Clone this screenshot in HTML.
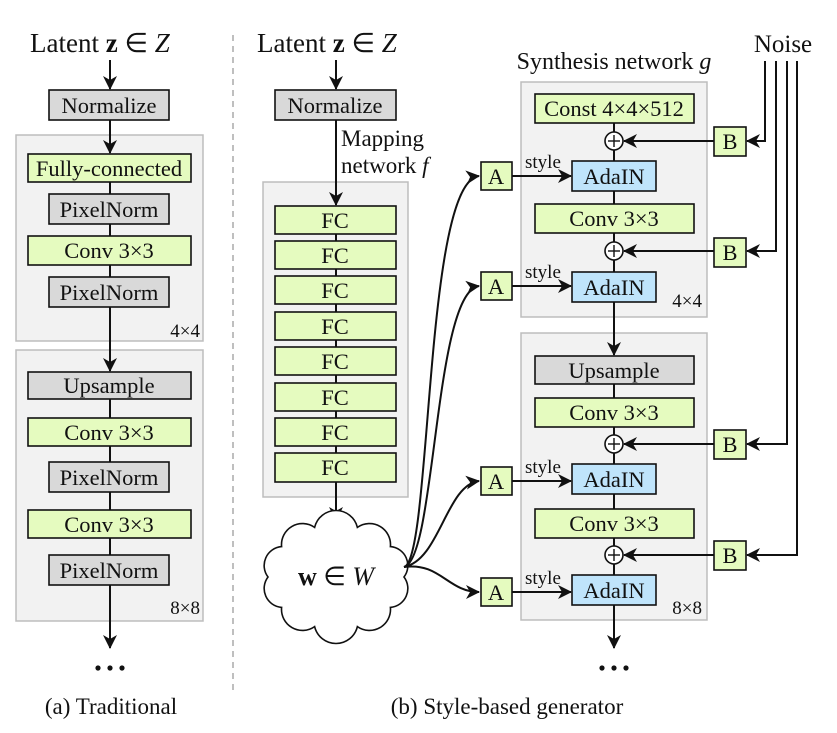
<!DOCTYPE html>
<html><head><meta charset="utf-8"><style>
html,body{margin:0;padding:0;background:#fff}
svg{display:block}
text{font-family:"Liberation Serif","Times New Roman",serif;fill:#111}
.g{fill:#e5fbbf;stroke:#111;stroke-width:1.6}
.gr{fill:#d9d9d9;stroke:#111;stroke-width:1.6}
.b{fill:#bfe4fb;stroke:#111;stroke-width:1.6}
.p{fill:#f2f2f2;stroke:#bdbdbd;stroke-width:1.5}
.l{stroke:#111;stroke-width:2;fill:none}
.t{font-size:22.5px;text-anchor:middle}
</style></head><body>
<svg width="837" height="733" viewBox="0 0 837 733" xmlns="http://www.w3.org/2000/svg" font-family="Liberation Serif, serif">
<defs>
<marker id="ar" viewBox="0 0 14 14" refX="13" refY="7" markerWidth="14" markerHeight="14" markerUnits="userSpaceOnUse" orient="auto">
<path d="M0,0 L14,7 L0,14 L4,7 Z" fill="#111"/>
</marker>
</defs>

<line x1="233" y1="35" x2="233" y2="692" stroke="#aaa" stroke-width="1.5" stroke-dasharray="6,5"/>

<!-- (a) -->
<text x="30" y="52" style="font-size:27px">Latent <tspan font-weight="bold">z</tspan> ∈ <tspan font-style="italic">Z</tspan></text>
<line class="l" x1="110" y1="60" x2="110" y2="89" marker-end="url(#ar)"/>
<rect class="gr" x="49" y="90" width="120" height="30"/>
<text class="t" x="109" y="113">Normalize</text>

<rect class="p" x="16" y="135" width="187" height="206"/>
<line class="l" x1="110" y1="120" x2="110" y2="153" marker-end="url(#ar)"/>
<line class="l" x1="110" y1="182" x2="110" y2="350"/>
<rect class="g" x="28" y="154" width="163" height="28"/>
<text class="t" x="109" y="176">Fully-connected</text>
<rect class="gr" x="49" y="194" width="120" height="30"/>
<text class="t" x="109" y="217">PixelNorm</text>
<rect class="g" x="28" y="236" width="163" height="29"/>
<text class="t" x="109" y="258">Conv 3×3</text>
<rect class="gr" x="49" y="277" width="120" height="30"/>
<text class="t" x="109" y="300">PixelNorm</text>
<text x="200" y="337" style="font-size:19px;text-anchor:end">4×4</text>

<rect class="p" x="16" y="350" width="187" height="271"/>
<line class="l" x1="110" y1="340" x2="110" y2="371" marker-end="url(#ar)"/>
<line class="l" x1="110" y1="398" x2="110" y2="585"/>
<rect class="gr" x="28" y="372" width="163" height="27"/>
<text class="t" x="109" y="393">Upsample</text>
<rect class="g" x="28" y="418" width="163" height="28"/>
<text class="t" x="109" y="440">Conv 3×3</text>
<rect class="gr" x="49" y="462" width="120" height="30"/>
<text class="t" x="109" y="485">PixelNorm</text>
<rect class="g" x="28" y="510" width="163" height="28"/>
<text class="t" x="109" y="532">Conv 3×3</text>
<rect class="gr" x="49" y="555" width="120" height="30"/>
<text class="t" x="109" y="578">PixelNorm</text>
<text x="200" y="614" style="font-size:19px;text-anchor:end">8×8</text>
<line class="l" x1="110" y1="585" x2="110" y2="648" marker-end="url(#ar)"/>
<g fill="#111"><circle cx="98" cy="668" r="2.6"/><circle cx="110" cy="668" r="2.6"/><circle cx="122" cy="668" r="2.6"/></g>
<text x="111" y="714" style="font-size:23px;text-anchor:middle">(a) Traditional</text>

<!-- (b) -->
<text x="257" y="52" style="font-size:27px">Latent <tspan font-weight="bold">z</tspan> ∈ <tspan font-style="italic">Z</tspan></text>
<line class="l" x1="336" y1="60" x2="336" y2="89" marker-end="url(#ar)"/>
<rect class="gr" x="275" y="90" width="121" height="30"/>
<text class="t" x="335" y="113">Normalize</text>
<text x="341" y="146" style="font-size:23px">Mapping</text>
<text x="341" y="173" style="font-size:23px">network <tspan font-style="italic">f</tspan></text>

<rect class="p" x="263" y="182" width="145" height="315"/>
<line class="l" x1="336" y1="120" x2="336" y2="205" marker-end="url(#ar)"/>
<line class="l" x1="336" y1="206" x2="336" y2="482"/>
<rect class="g" x="275" y="206" width="121" height="28"/><text class="t" x="335" y="228">FC</text>
<rect class="g" x="275" y="241" width="121" height="28"/><text class="t" x="335" y="263">FC</text>
<rect class="g" x="275" y="276" width="121" height="28"/><text class="t" x="335" y="298">FC</text>
<rect class="g" x="275" y="312" width="121" height="28"/><text class="t" x="335" y="334">FC</text>
<rect class="g" x="275" y="347" width="121" height="28"/><text class="t" x="335" y="369">FC</text>
<rect class="g" x="275" y="383" width="121" height="28"/><text class="t" x="335" y="405">FC</text>
<rect class="g" x="275" y="418" width="121" height="28"/><text class="t" x="335" y="440">FC</text>
<rect class="g" x="275" y="453" width="121" height="29"/><text class="t" x="335" y="475">FC</text>
<line class="l" x1="336" y1="482" x2="336" y2="520" marker-end="url(#ar)"/>

<path d="M404,577 A19,19 0 0 1 390.4,607.4 A21,21 0 0 1 357.4,626.6 A22,22 0 0 1 314.6,626.6 A21,21 0 0 1 281.6,607.4 A19,19 0 0 1 268,577 A19,19 0 0 1 281.6,546.6 A21,21 0 0 1 314.6,527.4 A22,22 0 0 1 357.4,527.4 A21,21 0 0 1 390.4,546.6 A19,19 0 0 1 404,577 Z" fill="#fff" stroke="#111" stroke-width="1.6"/>
<text x="336" y="585" style="font-size:26px;text-anchor:middle"><tspan font-weight="bold">w</tspan> ∈ <tspan font-style="italic">W</tspan></text>

<path class="l" d="M404,567 C432,560 424,182 479,176" marker-end="url(#ar)"/>
<path class="l" d="M404,567 C436,560 434,292 479,286" marker-end="url(#ar)"/>
<path class="l" d="M404,567 C440,560 446,485 479,481" marker-end="url(#ar)"/>
<path class="l" d="M404,567 C440,562 448,592 479,592" marker-end="url(#ar)"/>

<text x="614" y="69" style="font-size:24px;text-anchor:middle">Synthesis network <tspan font-style="italic">g</tspan></text>
<text x="783" y="52" style="font-size:25px;text-anchor:middle">Noise</text>

<rect class="p" x="521" y="82" width="186" height="235"/>
<line class="l" x1="614" y1="123" x2="614" y2="333"/>
<rect class="g" x="535" y="94" width="159" height="29"/>
<text class="t" x="614" y="116">Const 4×4×512</text>
<rect class="b" x="572" y="161" width="84" height="30"/>
<text class="t" x="614" y="184">AdaIN</text>
<rect class="g" x="535" y="204" width="159" height="29"/>
<text class="t" x="614" y="226">Conv 3×3</text>
<rect class="b" x="572" y="272" width="84" height="30"/>
<text class="t" x="614" y="295">AdaIN</text>
<text x="702" y="307" style="font-size:19px;text-anchor:end">4×4</text>

<rect class="p" x="521" y="333" width="186" height="287"/>
<line class="l" x1="614" y1="317" x2="614" y2="355" marker-end="url(#ar)"/>
<line class="l" x1="614" y1="384" x2="614" y2="605"/>
<rect class="gr" x="535" y="356" width="159" height="28"/>
<text class="t" x="614" y="378">Upsample</text>
<rect class="g" x="535" y="398" width="159" height="29"/>
<text class="t" x="614" y="420">Conv 3×3</text>
<rect class="b" x="572" y="464" width="84" height="30"/>
<text class="t" x="614" y="487">AdaIN</text>
<rect class="g" x="535" y="509" width="159" height="29"/>
<text class="t" x="614" y="531">Conv 3×3</text>
<rect class="b" x="572" y="575" width="84" height="30"/>
<text class="t" x="614" y="598">AdaIN</text>
<text x="702" y="614" style="font-size:19px;text-anchor:end">8×8</text>
<line class="l" x1="614" y1="605" x2="614" y2="648" marker-end="url(#ar)"/>
<g fill="#111"><circle cx="602" cy="668" r="2.6"/><circle cx="614" cy="668" r="2.6"/><circle cx="626" cy="668" r="2.6"/></g>
<text x="507" y="714" style="font-size:23px;text-anchor:middle">(b) Style-based generator</text>

<g fill="#fff" stroke="#111" stroke-width="1.6">
<circle cx="614" cy="141" r="9"/><circle cx="614" cy="251" r="9"/>
<circle cx="614" cy="444" r="9"/><circle cx="614" cy="555" r="9"/>
</g>
<g stroke="#111" stroke-width="1.4">
<line x1="608" y1="141" x2="620" y2="141"/><line x1="614" y1="135" x2="614" y2="147"/>
<line x1="608" y1="251" x2="620" y2="251"/><line x1="614" y1="245" x2="614" y2="257"/>
<line x1="608" y1="444" x2="620" y2="444"/><line x1="614" y1="438" x2="614" y2="450"/>
<line x1="608" y1="555" x2="620" y2="555"/><line x1="614" y1="549" x2="614" y2="561"/>
</g>

<rect class="g" x="481" y="162" width="31" height="28"/><text class="t" x="496" y="184">A</text>
<rect class="g" x="481" y="272" width="31" height="28"/><text class="t" x="496" y="294">A</text>
<rect class="g" x="481" y="467" width="31" height="28"/><text class="t" x="496" y="489">A</text>
<rect class="g" x="481" y="578" width="31" height="28"/><text class="t" x="496" y="600">A</text>
<line class="l" x1="512" y1="176" x2="571" y2="176" marker-end="url(#ar)"/>
<line class="l" x1="512" y1="286" x2="571" y2="286" marker-end="url(#ar)"/>
<line class="l" x1="512" y1="481" x2="571" y2="481" marker-end="url(#ar)"/>
<line class="l" x1="512" y1="592" x2="571" y2="592" marker-end="url(#ar)"/>
<g style="font-size:19px">
<text x="525" y="168">style</text><text x="525" y="278">style</text>
<text x="525" y="473">style</text><text x="525" y="584">style</text>
</g>

<rect class="g" x="714" y="127" width="32" height="29"/><text class="t" x="730" y="149">B</text>
<rect class="g" x="714" y="238" width="32" height="29"/><text class="t" x="730" y="260">B</text>
<rect class="g" x="714" y="430" width="32" height="29"/><text class="t" x="730" y="452">B</text>
<rect class="g" x="714" y="541" width="32" height="29"/><text class="t" x="730" y="563">B</text>
<line class="l" x1="714" y1="141" x2="624" y2="141" marker-end="url(#ar)"/>
<line class="l" x1="714" y1="251" x2="624" y2="251" marker-end="url(#ar)"/>
<line class="l" x1="714" y1="444" x2="624" y2="444" marker-end="url(#ar)"/>
<line class="l" x1="714" y1="555" x2="624" y2="555" marker-end="url(#ar)"/>

<path class="l" d="M765,61 V141 H747" marker-end="url(#ar)"/>
<path class="l" d="M776,61 V251 H747" marker-end="url(#ar)"/>
<path class="l" d="M787,61 V444 H747" marker-end="url(#ar)"/>
<path class="l" d="M797,61 V555 H747" marker-end="url(#ar)"/>
</svg>
</body></html>
